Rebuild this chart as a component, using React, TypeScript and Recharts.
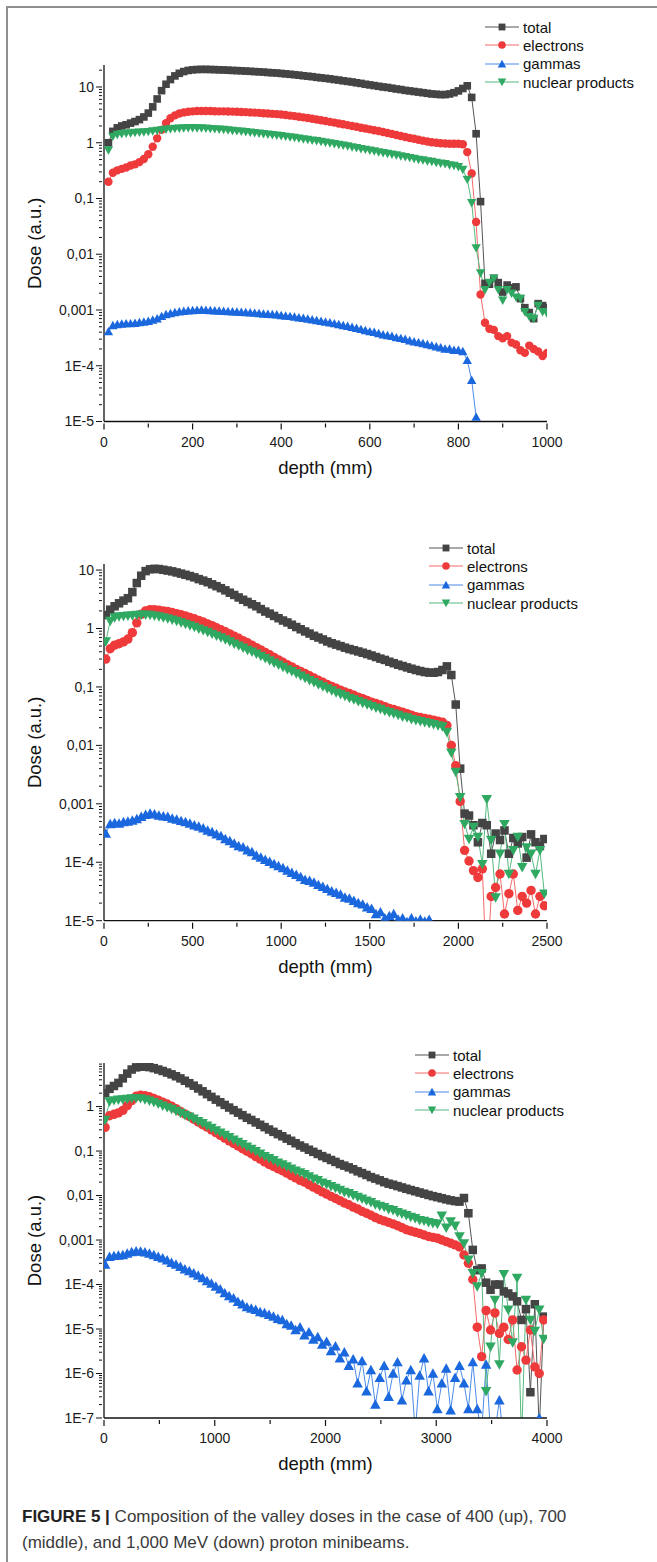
import React from "react";
import { LineChart, Line, XAxis, YAxis, Legend, Label } from "recharts";

const FONT = '"Liberation Sans", Arial, Helvetica, sans-serif';

// sampling grids (mm) of the three simulations
const depth400 = Array.from({ length: 100 }, (_, i) => 10 + i * 10);
const depth700 = Array.from({ length: 100 }, (_, i) => 10 + i * 25);
const depth1000 = Array.from({ length: 100 }, (_, i) => 10 + i * 40);

// ---- 400 MeV (up) ----
const total400 = [
  1.0, 1.6, 1.85, 2.0, 2.1, 2.25, 2.4, 2.6, 2.9, 3.4,
  4.4, 6.1, 8.6, 11.2, 13.6, 15.8, 17.6, 18.9, 19.8, 20.3,
  20.6, 20.7, 20.7, 20.6, 20.5, 20.3, 20.2, 20.0, 19.8, 19.7,
  19.5, 19.3, 19.1, 18.9, 18.7, 18.5, 18.2, 18.0, 17.8, 17.5,
  17.2, 16.9, 16.6, 16.3, 15.9, 15.6, 15.3, 14.9, 14.6, 14.3,
  14.0, 13.6, 13.3, 12.9, 12.6, 12.3, 11.9, 11.6, 11.2, 10.9,
  10.6, 10.3, 10.0, 9.8, 9.5, 9.2, 9.0, 8.7, 8.5, 8.3,
  8.1, 7.9, 7.7, 7.5, 7.4, 7.3, 7.3, 7.5, 7.9, 8.5,
  9.4, 10.5, 6.5, 1.45, 0.088, 0.003, 0.0029, 0.0037, 0.0031, 0.0021,
  0.0028, 0.0025, 0.0026, 0.0016, 0.0011, 0.0009, 0.0007, 0.0013, 0.0012, 0.0011,
];
const electrons400 = [
  0.2, 0.29, 0.32, 0.34, 0.36, 0.39, 0.41, 0.45, 0.51, 0.62,
  0.85, 1.2, 1.7, 2.25, 2.75, 3.1, 3.35, 3.5, 3.6, 3.65,
  3.7, 3.7, 3.7, 3.7, 3.68, 3.66, 3.65, 3.63, 3.62, 3.6,
  3.57, 3.54, 3.5, 3.47, 3.43, 3.39, 3.35, 3.3, 3.26, 3.21,
  3.14, 3.07, 3.0, 2.92, 2.85, 2.77, 2.69, 2.61, 2.53, 2.45,
  2.37, 2.3, 2.22, 2.15, 2.07, 2.0, 1.93, 1.86, 1.8, 1.74,
  1.68, 1.62, 1.56, 1.5, 1.44, 1.38, 1.32, 1.27, 1.22, 1.18,
  1.13, 1.09, 1.05, 1.02, 1.0, 0.98, 0.97, 0.96, 0.96, 0.96,
  0.94, 0.68, 0.28, 0.038, 0.0019, 0.00059, 0.00046, 0.00044, 0.00034, 0.00031,
  0.00034, 0.00026, 0.00024, 0.00019, 0.00017, 0.00023, 0.0002, 0.00018, 0.00015, 0.00017,
];
const gammas400 = [
  0.00041, 0.00053, 0.00055, 0.00056, 0.00057, 0.00057, 0.00058, 0.0006, 0.00061, 0.00063,
  0.00066, 0.0007, 0.00077, 0.00083, 0.00087, 0.0009, 0.00093, 0.00095, 0.00097, 0.00098,
  0.00099, 0.001, 0.00099, 0.00098, 0.00097, 0.00096, 0.00095, 0.00094, 0.00093, 0.00092,
  0.00091, 0.0009, 0.00089, 0.00088, 0.00087, 0.00085, 0.00084, 0.00083, 0.00082, 0.0008,
  0.00078, 0.00077, 0.00075, 0.00073, 0.00071, 0.00069, 0.00067, 0.00065, 0.00063, 0.00061,
  0.00059, 0.00057, 0.00055, 0.00053, 0.00051, 0.00049, 0.00047, 0.00045, 0.00043, 0.00041,
  0.0004, 0.00038, 0.00036, 0.00035, 0.00034, 0.00032, 0.00031, 0.0003, 0.00028, 0.00027,
  0.00026, 0.00025, 0.00024, 0.00023, 0.00022, 0.00021, 0.0002, 0.0002, 0.00019, 0.00019,
  0.00018, 0.000125, 0.000055, 0.000012, null, null, null, null, null, null,
  null, null, null, null, null, null, null, null, null, null,
];
const nuclear400 = [
  0.74, 1.3, 1.4, 1.45, 1.48, 1.5, 1.52, 1.54, 1.56, 1.58,
  1.62, 1.66, 1.7, 1.74, 1.77, 1.8, 1.82, 1.84, 1.85, 1.85,
  1.84, 1.83, 1.81, 1.79, 1.77, 1.74, 1.72, 1.69, 1.66, 1.63,
  1.6, 1.57, 1.54, 1.51, 1.48, 1.45, 1.42, 1.39, 1.36, 1.33,
  1.3, 1.27, 1.24, 1.2, 1.17, 1.14, 1.11, 1.08, 1.05, 1.02,
  0.99, 0.96, 0.93, 0.9, 0.87, 0.84, 0.81, 0.78, 0.76, 0.73,
  0.71, 0.68, 0.66, 0.64, 0.62, 0.6, 0.58, 0.56, 0.54, 0.52,
  0.5, 0.49, 0.47, 0.46, 0.44, 0.43, 0.42, 0.4, 0.39, 0.37,
  0.33, 0.22, 0.084, 0.013, 0.0046, 0.0023, 0.0031, 0.0037, 0.0023, 0.0015,
  0.0023, 0.002, 0.0017, 0.0016, 0.00093, 0.00076, 0.0007, 0.0012, 0.00093, 0.00087,
];

// ---- 700 MeV (middle) ----
const total700 = [
  1.7, 2.1, 2.4, 2.7, 3.0, 3.3, 4.2, 6.0, 8.0, 9.6,
  10.3, 10.5, 10.4, 10.1, 9.8, 9.5, 9.1, 8.7, 8.3, 7.9,
  7.5, 7.0, 6.6, 6.2, 5.7, 5.3, 4.9, 4.5, 4.1, 3.75,
  3.4, 3.1, 2.85, 2.6, 2.4, 2.15, 1.95, 1.8, 1.64, 1.5,
  1.37, 1.27, 1.16, 1.06, 0.97, 0.89, 0.82, 0.75, 0.7, 0.65,
  0.6, 0.56, 0.53, 0.5, 0.47, 0.445, 0.425, 0.405, 0.385, 0.365,
  0.345, 0.325, 0.305, 0.29, 0.27, 0.255, 0.24, 0.228, 0.216, 0.205,
  0.195, 0.187, 0.18, 0.176, 0.175, 0.18, 0.195, 0.225, 0.16, 0.05,
  0.004, 0.00068, 0.00063, 0.00043, 0.00022, 0.00047, 0.00043, 0.00014, 0.00031, 0.00024,
  0.00035, 0.00014, 0.00026, 0.00021, 0.00027, 0.00012, 0.0003, 0.00022, 0.00019, 0.00025,
];
const electrons700 = [
  0.3, 0.45, 0.52, 0.55, 0.59, 0.66, 0.85, 1.25, 1.75, 2.0,
  2.1, 2.1, 2.05, 2.0, 1.95, 1.88, 1.8, 1.72, 1.64, 1.55,
  1.47, 1.38, 1.29, 1.2, 1.12, 1.03, 0.95, 0.88, 0.81, 0.74,
  0.68, 0.62, 0.57, 0.52, 0.47, 0.43, 0.39, 0.355, 0.32, 0.29,
  0.265, 0.24, 0.22, 0.2, 0.185, 0.17, 0.155, 0.142, 0.13, 0.12,
  0.11, 0.102, 0.095, 0.088, 0.082, 0.077, 0.072, 0.067, 0.063, 0.059,
  0.055, 0.052, 0.049, 0.046, 0.043, 0.041, 0.039, 0.037, 0.035, 0.033,
  0.031, 0.03, 0.029, 0.028, 0.027, 0.026, 0.025, 0.022, 0.01, 0.0045,
  0.0011, 0.00016, 0.000105, 0.000072, 0.000055, 0.000077, 0.000001, 0.000026, 0.000037, 0.000063,
  0.000013, 0.000029, 0.000063, 0.000015, 0.000026, 0.00002, 0.000033, 0.000013, 0.000026, 0.000018,
];
const gammas700 = [
  0.00031, 0.00045, 0.00047, 0.00046, 0.00049, 0.0005, 0.00052, 0.00055, 0.0006, 0.00065,
  0.00068, 0.00066, 0.00063, 0.00061, 0.0006, 0.00056, 0.00054, 0.00051, 0.00049, 0.00046,
  0.00043, 0.00041, 0.00038, 0.00035, 0.00033, 0.0003, 0.00028, 0.00025, 0.00023, 0.00021,
  0.00019, 0.00018, 0.00016, 0.00015, 0.00013, 0.00012, 0.00011, 0.000102, 0.000093, 0.000086,
  0.00008, 0.000072, 0.000066, 0.000061, 0.000056, 0.00005, 0.000048, 0.000045, 0.000041, 0.000038,
  0.000035, 0.000032, 0.00003, 0.000028, 0.000025, 0.000024, 0.000022, 0.00002, 0.000019, 0.000017,
  0.000016, 0.000013, 0.000014, 0.000011, 0.000012, 0.000013, 0.0000105, 0.000011, 0.0000095, 0.000011,
  0.0000098, 0.0000105, 0.0000097, 0.0000104, null, null, null, null, null, null,
  null, null, null, null, null, null, null, null, null, null,
  null, null, null, null, null, null, null, null, null, null,
];
const nuclear700 = [
  0.6, 1.35, 1.55, 1.6, 1.63, 1.65, 1.67, 1.7, 1.72, 1.72,
  1.7, 1.65, 1.6, 1.54, 1.48, 1.41, 1.34, 1.27, 1.2, 1.13,
  1.06, 0.99, 0.93, 0.87, 0.81, 0.75, 0.7, 0.65, 0.6, 0.55,
  0.51, 0.47, 0.43, 0.4, 0.37, 0.34, 0.31, 0.285, 0.26, 0.24,
  0.22, 0.2, 0.185, 0.17, 0.155, 0.142, 0.13, 0.12, 0.11, 0.102,
  0.094, 0.087, 0.08, 0.075, 0.07, 0.065, 0.061, 0.057, 0.053, 0.05,
  0.047, 0.044, 0.042, 0.039, 0.037, 0.035, 0.033, 0.031, 0.03, 0.028,
  0.027, 0.026, 0.025, 0.024, 0.023, 0.022, 0.021, 0.017, 0.0075, 0.0035,
  0.0013, 0.00045, 0.00025, 0.0004, 0.00027, 0.000093, 0.0012, 0.00024, 0.000025, 0.00014,
  0.00045, 0.000063, 0.00016, 0.00027, 0.000082, 0.00018, 0.00014, 0.000063, 0.00016, 0.000029,
];

// ---- 1000 MeV (down) ----
const total1000 = [
  2.0, 2.5, 2.9, 3.4, 4.3, 5.5, 6.8, 7.6, 7.9, 7.9,
  7.7, 7.3, 6.8, 6.3, 5.8, 5.3, 4.8, 4.3, 3.8, 3.35,
  2.95, 2.55, 2.2, 1.9, 1.65, 1.43, 1.25, 1.09, 0.95, 0.83,
  0.73, 0.64, 0.56, 0.5, 0.44, 0.39, 0.345, 0.305, 0.27, 0.24,
  0.215, 0.19, 0.17, 0.15, 0.133, 0.12, 0.107, 0.096, 0.086, 0.077,
  0.07, 0.063, 0.057, 0.051, 0.047, 0.043, 0.039, 0.035, 0.032, 0.029,
  0.026, 0.024, 0.022, 0.02, 0.0185, 0.0175, 0.0163, 0.0152, 0.0142, 0.0133,
  0.0125, 0.0117, 0.011, 0.0103, 0.0097, 0.0092, 0.0087, 0.0082, 0.0078, 0.0075,
  0.0073, 0.0088, 0.004, 0.0006, 0.00021, 0.00023, 0.00011, 0.000076, 0.0001, 0.0001,
  0.00007, 0.000063, 0.000054, 0.000042, 0.000016, 0.000028, 0.00000038, 0.000036, 0.00000005, 0.000019,
];
const electrons1000 = [
  0.34, 0.62, 0.67, 0.72, 0.82, 1.05, 1.36, 1.7, 1.8, 1.76,
  1.66, 1.52, 1.39, 1.26, 1.14, 1.02, 0.9, 0.78, 0.68, 0.6,
  0.52, 0.45, 0.39, 0.345, 0.3, 0.26, 0.225, 0.195, 0.17, 0.148,
  0.13, 0.113, 0.099, 0.087, 0.075, 0.066, 0.057, 0.05, 0.045, 0.04,
  0.036, 0.032, 0.028, 0.025, 0.022, 0.02, 0.0175, 0.0155, 0.0137, 0.0121,
  0.0108, 0.0096, 0.0086, 0.0077, 0.0068, 0.0062, 0.0055, 0.005, 0.0044, 0.004,
  0.0036, 0.0032, 0.0029, 0.0027, 0.0025, 0.0023, 0.0021, 0.0019, 0.0017, 0.0016,
  0.0015, 0.0014, 0.0013, 0.0012, 0.00115, 0.0011, 0.001, 0.00092, 0.00085, 0.00078,
  0.0007, 0.00046, 0.0003, 0.00013, 0.000011, 0.0000024, 0.000026, 0.0000095, 0.000023, 0.000008,
  0.000011, 0.0000058, 0.000016, 0.0000012, 0.000004, 0.000002, 0.0000095, 0.0000014, 0.000001, 0.000016,
];
const gammas1000 = [
  0.00028, 0.00042, 0.00044, 0.00045, 0.00046, 0.0005, 0.00054, 0.00056, 0.00055, 0.00053,
  0.0005, 0.00046, 0.00042, 0.00039, 0.00035, 0.00031, 0.00028, 0.00025, 0.00022, 0.0002,
  0.00018, 0.00016, 0.00014, 0.00012, 0.000105, 0.00009, 0.000078, 0.000064, 0.000055, 0.000049,
  0.000041, 0.000036, 0.000031, 0.000029, 0.000027, 0.000024, 0.000023, 0.000021, 0.000019, 0.000017,
  0.000016, 0.000013, 0.000012, 0.0000095, 0.000011, 0.0000072, 0.0000085, 0.0000058, 0.0000066, 0.0000045,
  0.0000052, 0.0000032, 0.0000041, 0.0000022, 0.000003, 0.0000015, 0.0000021, 0.0000006, 0.0000019, 0.0000004,
  0.0000012, 0.0000002, 0.0000008, 0.0000015, 0.0000003, 0.000001, 0.0000018, 0.00000025, 0.0000007, 0.0000012,
  0.00000005, 0.0000009, 0.0000022, 0.0000004, 0.000001, 0.00000016, 0.0000006, 0.0000013, 0.00000015, 0.0000008,
  0.0000015, 0.0000006, 0.00000016, 0.0000018, 0.00000016, 0.00000005, 0.0000016, 0.00000005, 0.00000005, 0.00000025,
  0.00000003, 0.00000003, 0.00000003, 0.00000003, 0.00000003, 0.00000003, 0.00000003, 0.00000003, 0.0000001, 0.00000003,
];
const nuclear1000 = [
  0.5, 1.3, 1.38, 1.42, 1.45, 1.48, 1.52, 1.55, 1.53, 1.45,
  1.36, 1.26, 1.15, 1.05, 0.96, 0.88, 0.8, 0.72, 0.65, 0.59,
  0.53, 0.47, 0.42, 0.37, 0.33, 0.29, 0.26, 0.23, 0.205, 0.18,
  0.16, 0.142, 0.126, 0.112, 0.099, 0.087, 0.077, 0.069, 0.062, 0.055,
  0.05, 0.045, 0.04, 0.036, 0.033, 0.03, 0.027, 0.024, 0.022, 0.0195,
  0.018, 0.0162, 0.0148, 0.0133, 0.012, 0.0113, 0.0102, 0.0093, 0.0085, 0.0077,
  0.0071, 0.0063, 0.0058, 0.0055, 0.0049, 0.0047, 0.0042, 0.0039, 0.0036, 0.0033,
  0.0031, 0.0028, 0.0027, 0.0025, 0.0024, 0.0023, 0.0035, 0.0019, 0.0026, 0.0021,
  0.0012, 0.00084, 0.00036, 0.00018, 0.00009, 0.00018, 0.0000004, 0.000004, 0.000045, 0.0000016,
  0.00017, 0.000027, 0.000005, 0.00014, 0.00000003, 0.000045, 0.000016, 0.000009, 0.000027, 0.000006,
];

// axis tick labels
const xTicks400 = [0, 100, 200, 300, 400, 500, 600, 700, 800, 900, 1000];
const xTicks700 = [0, 250, 500, 750, 1000, 1250, 1500, 1750, 2000, 2250, 2500];
const xTicks1000 = [0, 500, 1000, 1500, 2000, 2500, 3000, 3500, 4000];
const decadeExps = [-7, -6, -5, -4, -3, -2, -1, 0, 1];
const decadeLabels = ["1E-7", "1E-6", "1E-5", "1E-4", "0,001", "0,01", "0,1", "1", "10"];

const SERIES = [
  { key: "total", name: "total", line: "#555555", fill: "#444444", shape: "square" },
  { key: "electrons", name: "electrons", line: "#f36a6a", fill: "#ee3a3a", shape: "circle" },
  { key: "gammas", name: "gammas", line: "#4b8bea", fill: "#1b68de", shape: "up" },
  { key: "nuclear", name: "nuclear products", line: "#55ba7f", fill: "#2fa862", shape: "down" },
];

function buildRows(depth: number[], t: any[], e: any[], g: any[], n: any[]) {
  return depth.map((d, i) => ({ depth: d, total: t[i], electrons: e[i], gammas: g[i], nuclear: n[i] }));
}

function logTicks(min: number, max: number) {
  const out: number[] = [];
  for (let e = Math.floor(Math.log10(min)); e <= Math.ceil(Math.log10(max)); e++) {
    for (let m = 1; m <= 9; m++) {
      const v = m * Math.pow(10, e);
      if (v >= min * 0.999 && v <= max * 1.001) out.push(v);
    }
  }
  return out;
}

function Marker({ shape, cx, cy, fill, s = 1 }: any) {
  if (cx == null || cy == null || Number.isNaN(cx) || Number.isNaN(cy)) return null;
  if (shape === "square") {
    const h = 3.8 * s;
    return <rect x={cx - h} y={cy - h} width={2 * h} height={2 * h} fill={fill} />;
  }
  if (shape === "circle") return <circle cx={cx} cy={cy} r={4.2 * s} fill={fill} />;
  const h = 4.7 * s;
  if (shape === "up")
    return <polygon points={`${cx},${cy - h} ${cx + h},${cy + h * 0.8} ${cx - h},${cy + h * 0.8}`} fill={fill} />;
  return <polygon points={`${cx},${cy + h} ${cx + h},${cy - h * 0.8} ${cx - h},${cy - h * 0.8}`} fill={fill} />;
}

function YTick(props: any) {
  const { x, y, payload } = props;
  const v = payload.value;
  const e = Math.floor(Math.log10(v) + 1e-9);
  const major = Math.abs(v / Math.pow(10, e) - 1) < 1e-6;
  const label = decadeLabels[decadeExps.indexOf(e)];
  return (
    <g>
      <line x1={x - (major ? 6 : 3)} x2={x} y1={y} y2={y} stroke="#111" strokeWidth={1} />
      {major && (
        <text x={x - 8} y={y + 4.8} textAnchor="end" fontSize={14} fontFamily={FONT} fill="#1a1a1a">
          {label}
        </text>
      )}
    </g>
  );
}

function XTick(props: any) {
  const { x, y, payload, major } = props;
  const isMajor = payload.value % major === 0;
  return (
    <g>
      <line x1={x} x2={x} y1={y} y2={y + (isMajor ? 6 : 4)} stroke="#111" strokeWidth={1.2} />
      {isMajor && (
        <text x={x} y={y + 23} textAnchor="middle" fontSize={14} fontFamily={FONT} fill="#1a1a1a">
          {payload.value}
        </text>
      )}
    </g>
  );
}

function LegendBox() {
  return (
    <div style={{ fontFamily: FONT, fontSize: 15, color: "#111" }}>
      {SERIES.map((s) => (
        <div key={s.key} style={{ display: "flex", alignItems: "center", height: 18.3, whiteSpace: "nowrap" }}>
          <svg width={34} height={14} style={{ display: "block" }}>
            <line x1={0} x2={34} y1={7} y2={7} stroke={s.line} strokeWidth={1.2} />
            <Marker shape={s.shape} cx={17} cy={7} fill={s.fill} s={0.9} />
          </svg>
          <span style={{ marginLeft: 4 }}>{s.name}</span>
        </div>
      ))}
    </div>
  );
}

const PANELS = [
  {
    id: "p400", top: 0, rows: buildRows(depth400, total400, electrons400, gammas400, nuclear400),
    xMax: 1000, xTicks: xTicks400, xMajor: 200, yMin: 1e-5, yMax: 24.8,
    legendLeft: 485, legendTop: 18, bottom: 8.5, dotScale: 1,
  },
  {
    id: "p700", top: 499, rows: buildRows(depth700, total700, electrons700, gammas700, nuclear700),
    xMax: 2500, xTicks: xTicks700, xMajor: 500, yMin: 1e-5, yMax: 12.7,
    legendLeft: 429, legendTop: 40, bottom: 8.3, dotScale: 1.12,
  },
  {
    id: "p1000", top: 998, rows: buildRows(depth1000, total1000, electrons1000, gammas1000, nuclear1000),
    xMax: 4000, xTicks: xTicks1000, xMajor: 1000, yMin: 1e-7, yMax: 9.53,
    legendLeft: 415, legendTop: 48, bottom: 10, dotScale: 1.12,
  },
];

function Panel({ cfg }: any) {
  return (
    <div style={{ position: "absolute", left: 0, top: cfg.top }}>
      <LineChart width={657} height={480} data={cfg.rows} margin={{ top: 65, right: 110, left: 20, bottom: cfg.bottom }}>
        <XAxis
          dataKey="depth" type="number" domain={[0, cfg.xMax]} ticks={cfg.xTicks} interval={0}
          allowDataOverflow height={50} tickLine={false} tickSize={0}
          axisLine={{ stroke: "#111", strokeWidth: 1.3 }} tick={<XTick major={cfg.xMajor} />}
        >
          <Label
            content={(p: any) =>
              p.viewBox ? (
                <text x={p.viewBox.x + p.viewBox.width / 2} y={p.viewBox.y + 52} textAnchor="middle"
                  fontSize={18.5} fontFamily={FONT} fill="#111">depth (mm)</text>
              ) : null
            }
          />
        </XAxis>
        <YAxis
          type="number" scale="log" domain={[cfg.yMin, cfg.yMax]} ticks={logTicks(cfg.yMin, cfg.yMax)} interval={0}
          allowDataOverflow width={84} tickLine={false} tickSize={0}
          axisLine={{ stroke: "#111", strokeWidth: 1.3 }} tick={<YTick />}
        >
          <Label
            content={(p: any) => {
              if (!p.viewBox) return null;
              const cx = p.viewBox.x + 15;
              const cy = p.viewBox.y + p.viewBox.height / 2;
              return (
                <text x={cx} y={cy} transform={`rotate(-90, ${cx}, ${cy})`} textAnchor="middle" dy="0.35em"
                  fontSize={18.5} fontFamily={FONT} fill="#111">Dose (a.u.)</text>
              );
            }}
          />
        </YAxis>
        <Legend layout="vertical" align="center" verticalAlign="middle"
          wrapperStyle={{ left: cfg.legendLeft, top: cfg.legendTop, width: 200 }} content={() => <LegendBox />} />
        {SERIES.map((s) => (
          <Line
            key={s.key} dataKey={s.key} name={s.name} type="linear" stroke={s.line} strokeWidth={1}
            isAnimationActive={false} activeDot={false}
            dot={(p: any) => (
              <Marker key={`${cfg.id}-${s.key}-${p.index}`} shape={s.shape} cx={p.cx} cy={p.cy} fill={s.fill} s={cfg.dotScale} />
            )}
          />
        ))}
      </LineChart>
    </div>
  );
}

export default function App() {
  return (
    <div style={{ position: "absolute", left: 0, top: 0, width: 657, height: 1562, background: "#fff", overflow: "hidden" }}>
      <div style={{ position: "absolute", left: 6, top: 6, width: 651, height: 1.5, background: "#8f8f8f" }} />
      <div style={{ position: "absolute", left: 6, top: 6, width: 1.5, height: 1556, background: "#8f8f8f" }} />
      {PANELS.map((cfg) => (
        <Panel key={cfg.id} cfg={cfg} />
      ))}
      <div style={{ position: "absolute", left: 22, top: 1504, fontFamily: FONT, fontSize: 17, lineHeight: "26px", color: "#3a3a3a", whiteSpace: "nowrap" }}>
        <b style={{ color: "#222" }}>FIGURE 5 |</b> Composition of the valley doses in the case of 400 (up), 700
        <br />
        (middle), and 1,000 MeV (down) proton minibeams.
      </div>
    </div>
  );
}
